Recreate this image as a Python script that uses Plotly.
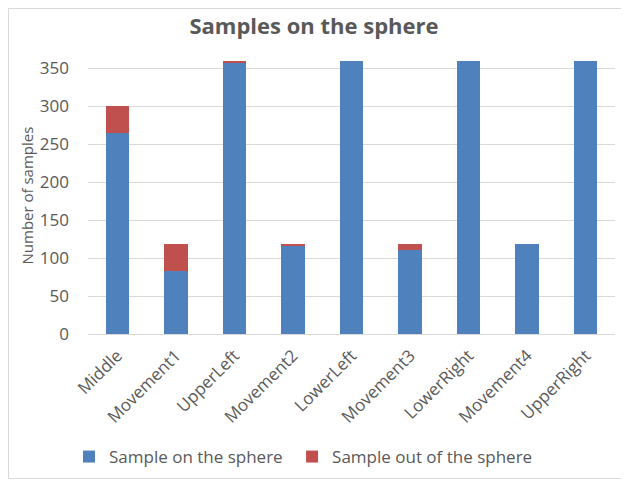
import plotly.graph_objects as go

categories = ['Middle', 'Movement1', 'UpperLeft', 'Movement2', 'LowerLeft',
              'Movement3', 'LowerRight', 'Movement4', 'UpperRight']
on_sphere = [265, 83, 358, 116, 360, 111, 360, 119, 360]
out_sphere = [35, 36, 2, 3, 0, 7, 0, 0, 0]

font_name = "Open Sans"
grey = '#595959'

fig = go.Figure()
fig.add_trace(go.Bar(x=categories, y=on_sphere, name='Sample on the sphere\u00a0',
                     marker=dict(color='#4F81BD', line=dict(width=0))))
fig.add_trace(go.Bar(x=categories, y=out_sphere, name='Sample out of the sphere',
                     marker=dict(color='#C0504D', line=dict(width=0))))

# page has an 8px body margin, so the figure is a bit smaller
W, H = 621, 472
ml, mr, mt, mb = 80, 14, 49, 146
pw, ph = W - ml - mr, H - mt - mb

fig.update_layout(
    barmode='stack',
    bargap=0.6,
    width=W, height=H,
    margin=dict(l=ml, r=mr, t=mt, b=mb, autoexpand=False),
    paper_bgcolor='white', plot_bgcolor='white',
    font=dict(family=font_name, color=grey, size=17),
    title=dict(text='<b>Samples on the sphere</b>', x=306 / W, xanchor='center',
               y=1 - 18 / H, yanchor='middle',
               font=dict(size=22, color=grey, family=font_name)),
    xaxis=dict(tickangle=-45, showgrid=False, showline=True, linecolor='#D9D9D9',
               ticks='', ticklabelstandoff=4, tickfont=dict(size=17, color=grey),
               automargin=False),
    yaxis=dict(range=[0, 365], tickvals=[0, 50, 100, 150, 200, 250, 300, 350],
               showgrid=True, gridcolor='#D9D9D9', zeroline=False,
               ticks='', ticklabelstandoff=18, tickfont=dict(size=17, color=grey),
               automargin=False),
    annotations=[dict(text='Number of samples', textangle=-90, showarrow=False,
                      xref='paper', yref='paper', x=(18 - ml) / pw, y=0.5,
                      xanchor='center', yanchor='middle',
                      font=dict(size=15, color=grey))],
    legend=dict(orientation='h', x=-19 / pw, xanchor='left',
                y=-(457 - 334) / ph, yanchor='middle',
                font=dict(size=17, color=grey), traceorder='normal'),
    shapes=[dict(type='rect', xref='paper', yref='paper',
                 x0=-(ml - 0.5) / pw, x1=1 + (mr - 1.5) / pw,
                 y0=-(mb - 1.5) / ph, y1=1 + (mt - 0.5) / ph,
                 line=dict(color='#D9D9D9', width=1))],
)

fig.write_html("out.html")
